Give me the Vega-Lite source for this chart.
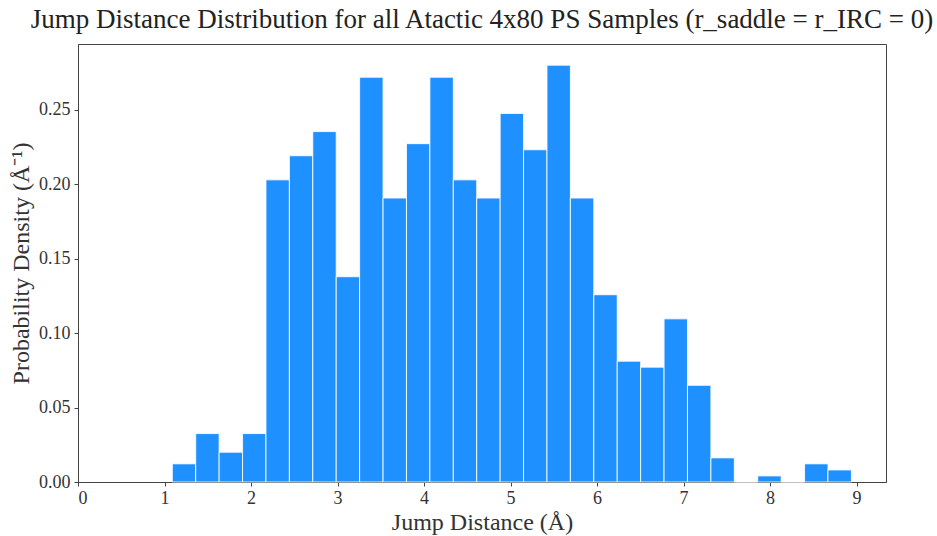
{
  "$schema": "https://vega.github.io/schema/vega-lite/v6.json",
  "width": 808,
  "height": 438,
  "autosize": {"type": "none"},
  "padding": {"left": 78, "top": 44, "right": 51, "bottom": 54},
  "background": "white",
  "title": {
    "text": "Jump Distance Distribution for all Atactic 4x80 PS Samples (r_saddle = r_IRC = 0)",
    "font": "Liberation Serif",
    "fontSize": 27,
    "fontWeight": "normal",
    "color": "#222222",
    "anchor": "middle",
    "offset": 10
  },
  "config": {
    "view": {"stroke": "#444444", "strokeWidth": 1},
    "axis": {
      "labelFont": "Liberation Serif",
      "titleFont": "Liberation Serif",
      "labelColor": "#333333",
      "titleColor": "#333333",
      "domainColor": "#444444",
      "tickColor": "#444444",
      "grid": false,
      "zindex": 1
    }
  },
  "data": {
    "values": [
      {"bin_start": 1.0900, "bin_end": 1.3607, "density": 0.0122},
      {"bin_start": 1.3607, "bin_end": 1.6314, "density": 0.0325},
      {"bin_start": 1.6314, "bin_end": 1.9021, "density": 0.0200},
      {"bin_start": 1.9021, "bin_end": 2.1728, "density": 0.0325},
      {"bin_start": 2.1728, "bin_end": 2.4435, "density": 0.2028},
      {"bin_start": 2.4435, "bin_end": 2.7141, "density": 0.2190},
      {"bin_start": 2.7141, "bin_end": 2.9848, "density": 0.2352},
      {"bin_start": 2.9848, "bin_end": 3.2555, "density": 0.1378},
      {"bin_start": 3.2555, "bin_end": 3.5262, "density": 0.2717},
      {"bin_start": 3.5262, "bin_end": 3.7969, "density": 0.1906},
      {"bin_start": 3.7969, "bin_end": 4.0676, "density": 0.2271},
      {"bin_start": 4.0676, "bin_end": 4.3383, "density": 0.2717},
      {"bin_start": 4.3383, "bin_end": 4.6090, "density": 0.2028},
      {"bin_start": 4.6090, "bin_end": 4.8797, "density": 0.1906},
      {"bin_start": 4.8797, "bin_end": 5.1504, "density": 0.2474},
      {"bin_start": 5.1504, "bin_end": 5.4210, "density": 0.2230},
      {"bin_start": 5.4210, "bin_end": 5.6917, "density": 0.2798},
      {"bin_start": 5.6917, "bin_end": 5.9624, "density": 0.1906},
      {"bin_start": 5.9624, "bin_end": 6.2331, "density": 0.1257},
      {"bin_start": 6.2331, "bin_end": 6.5038, "density": 0.0811},
      {"bin_start": 6.5038, "bin_end": 6.7745, "density": 0.0771},
      {"bin_start": 6.7745, "bin_end": 7.0452, "density": 0.1095},
      {"bin_start": 7.0452, "bin_end": 7.3159, "density": 0.0649},
      {"bin_start": 7.3159, "bin_end": 7.5866, "density": 0.0162},
      {"bin_start": 7.5866, "bin_end": 7.8573, "density": 0.0},
      {"bin_start": 7.8573, "bin_end": 8.1279, "density": 0.0041},
      {"bin_start": 8.1279, "bin_end": 8.3986, "density": 0.0},
      {"bin_start": 8.3986, "bin_end": 8.6693, "density": 0.0122},
      {"bin_start": 8.6693, "bin_end": 8.9400, "density": 0.0081}
    ]
  },
  "mark": {"type": "rect", "fill": "#1E90FF", "stroke": "#ffffff", "strokeWidth": 1, "strokeOpacity": 0.85},
  "encoding": {
    "x": {
      "field": "bin_start",
      "type": "quantitative",
      "scale": {"domain": [0, 9.34], "nice": false, "zero": false},
      "axis": {
        "values": [0, 1, 2, 3, 4, 5, 6, 7, 8, 9],
        "format": "d",
        "labelFontSize": 18,
        "tickSize": 4,
        "labelPadding": 3,
        "title": "Jump Distance (Å)",
        "titleFontSize": 24,
        "titleFontWeight": "normal",
        "titlePadding": 3
      }
    },
    "x2": {"field": "bin_end"},
    "y": {
      "field": "density",
      "type": "quantitative",
      "scale": {"domain": [0, 0.294], "nice": false},
      "axis": {
        "values": [0, 0.05, 0.1, 0.15, 0.2, 0.25],
        "format": ".2f",
        "labelFontSize": 18,
        "tickSize": 4,
        "labelPadding": 4,
        "title": "Probability Density (Å⁻¹)",
        "titleFontSize": 24,
        "titleFontWeight": "normal",
        "titlePadding": 5
      }
    },
    "y2": {"datum": 0}
  }
}
